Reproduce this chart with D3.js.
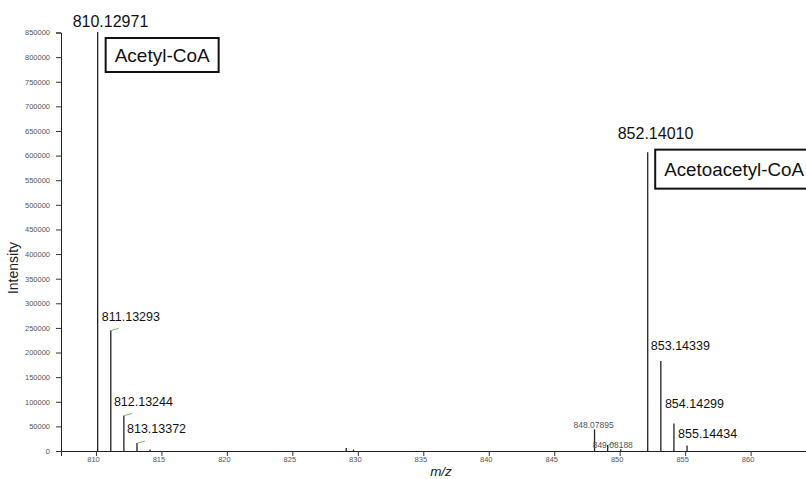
<!DOCTYPE html>
<html><head><meta charset="utf-8">
<script src="https://cdn.jsdelivr.net/npm/d3@7"></script>
<style>
html,body{margin:0;padding:0;background:#fff;overflow:hidden}
svg{display:block}
</style></head>
<body>
<svg id="chart" width="806" height="479"></svg>
<script>
// ---- data ----
const peakMz        = [810.12971, 811.13293, 812.13244, 813.13372, 814.13, 829.11, 829.67, 848.07895, 849.08188, 850.08, 852.14010, 853.14339, 854.14299, 855.14434];
const peakIntensity = [851000,    245000,    72000,     16000,     3000,   6000,   3000,   44000,     12000,     3500,   607000,    183000,    56000,     11000];
const labelText     = ["810.12971","811.13293","812.13244","813.13372","848.07895","849.08188","852.14010","853.14339","854.14299","855.14434"];
const labelMz       = [810.12971, 811.13293, 812.13244, 813.13372, 848.07895, 849.08188, 852.14010, 853.14339, 854.14299, 855.14434];
const centroidMz    = [811.13293, 812.13244, 813.13372, 849.08188];
const centroidInt   = [245000, 72000, 16000, 12000];
const compoundNames = ["Acetyl-CoA", "Acetoacetyl-CoA"];
const compoundMz    = [810.12971, 852.14010];
const yTicks = d3.range(0, 850001, 50000);
const xTicks = [810, 815, 820, 825, 830, 835, 840, 845, 850, 855, 860];

// ---- layout ----
const svg = d3.select("#chart");
const x = d3.scaleLinear().domain([807.33, 864.23]).range([61, 806]);
const y = d3.scaleLinear().domain([0, 850000]).range([451, 32.5]);
const intensityOf = mz => peakIntensity[peakMz.indexOf(mz)];

// axes
const gx = svg.append("g").attr("transform", "translate(0,451)");
gx.call(d3.axisBottom(x).tickValues(d3.range(807.5, 864.2, 0.25)).tickSize(2).tickFormat(""));
gx.call(d3.axisBottom(x).tickValues(d3.range(808, 864.2, 1)).tickSize(3.5).tickFormat(""));
gx.call(d3.axisBottom(x).tickValues(xTicks).tickSize(5).tickFormat(d3.format("d")));
gx.selectAll(".domain").attr("stroke", "#222");
gx.selectAll(".tick line").attr("stroke", "#333");
gx.selectAll("text").attr("font-family", "Liberation Sans, Arial, sans-serif").attr("font-size", "7.5px")
  .attr("fill", "#555").attr("dx", -3).attr("dy", 3);

const gy = svg.append("g").attr("transform", "translate(61,0)");
gy.call(d3.axisLeft(y).tickValues(d3.range(0, 850001, 5000)).tickSize(3).tickFormat(""));
gy.call(d3.axisLeft(y).tickValues(yTicks).tickSize(5).tickFormat(d3.format("d")));
gy.selectAll(".domain").attr("stroke", "#222");
gy.selectAll(".tick line").attr("stroke", "#333");
gy.selectAll("text").attr("font-family", "Liberation Sans, Arial, sans-serif").attr("font-size", "7.5px")
  .attr("fill", "#555").attr("x", -11);

// axis titles
svg.append("text").attr("transform", "translate(18,268) rotate(-90)").attr("text-anchor", "middle")
  .attr("font-family", "Liberation Sans, Arial, sans-serif").attr("font-size", "14px").attr("fill", "#222").text("Intensity");
svg.append("text").attr("x", 441).attr("y", 476).attr("text-anchor", "middle").attr("font-style", "italic")
  .attr("font-family", "Liberation Sans, Arial, sans-serif").attr("font-size", "13.5px").attr("fill", "#222").text("m/z");

// peaks
svg.append("g").selectAll("line").data(peakMz).join("line")
  .attr("x1", d => x(d)).attr("x2", d => x(d))
  .attr("y1", y(0)).attr("y2", (d, i) => y(peakIntensity[i]))
  .attr("stroke", "#222").attr("stroke-width", 1.3);

// centroid markers (green)
svg.append("g").selectAll("line").data(centroidMz).join("line")
  .attr("x1", d => x(d) + 0.5).attr("x2", d => x(d) + 8)
  .attr("y1", (d, i) => y(centroidInt[i])).attr("y2", (d, i) => y(centroidInt[i]) - 2)
  .attr("stroke", "#6cbf6c").attr("stroke-width", 1);

// peak labels
const labelStyle = {
  "810.12971": {dx: -25, dy: -5, size: 16, color: "#111"},
  "811.13293": {dx: -9, dy: -9, size: 12.5, color: "#111"},
  "812.13244": {dx: -10, dy: -10, size: 12.5, color: "#111"},
  "813.13372": {dx: -10, dy: -10, size: 12.5, color: "#111"},
  "848.07895": {dx: -21, dy: -1, size: 8.5, color: "#555"},
  "849.08188": {dx: -15, dy: 3, size: 8.5, color: "#555"},
  "852.14010": {dx: -30, dy: -13, size: 16, color: "#111"},
  "853.14339": {dx: -10, dy: -11, size: 12.5, color: "#111"},
  "854.14299": {dx: -9, dy: -15, size: 12.5, color: "#111"},
  "855.14434": {dx: -9, dy: -8, size: 12.5, color: "#111"}
};
svg.append("g").selectAll("text").data(labelText).join("text")
  .attr("x", (d, i) => x(labelMz[i]) + labelStyle[d].dx)
  .attr("y", (d, i) => y(intensityOf(labelMz[i])) + labelStyle[d].dy)
  .attr("font-family", "Liberation Sans, Arial, sans-serif")
  .attr("font-size", d => labelStyle[d].size + "px")
  .attr("fill", d => labelStyle[d].color)
  .text(d => d);

// compound boxes (second box runs off the right edge as in the original)
const boxStyle = [{dx: 8, dy: 6, w: 113, h: 34, fs: 19}, {dx: 7.5, dy: -2.5, w: 175, h: 39, fs: 18.8}];
compoundNames.forEach((name, i) => {
  const px = x(compoundMz[i]) + boxStyle[i].dx;
  const py = y(intensityOf(compoundMz[i])) + boxStyle[i].dy;
  svg.append("rect").attr("x", px).attr("y", py).attr("width", boxStyle[i].w).attr("height", boxStyle[i].h)
    .attr("fill", "#fff").attr("stroke", "#111").attr("stroke-width", 2);
  svg.append("text").attr("x", px + 9).attr("y", py + boxStyle[i].h / 2 + 7)
    .attr("font-family", "Liberation Sans, Arial, sans-serif").attr("font-size", boxStyle[i].fs + "px").attr("fill", "#111")
    .text(name);
});
</script>
</body></html>
